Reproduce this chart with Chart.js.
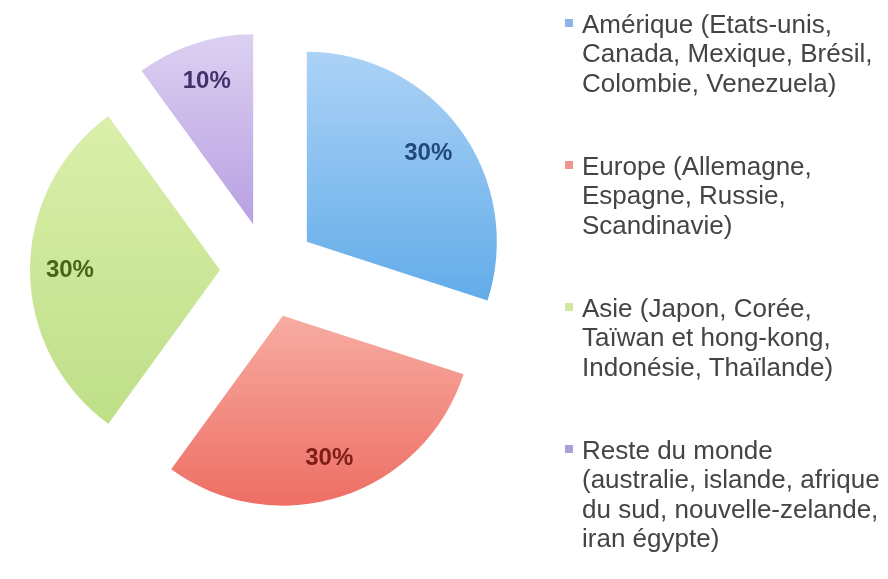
<!DOCTYPE html>
<html>
<head>
<meta charset="utf-8">
<script src="https://cdn.jsdelivr.net/npm/chart.js@4.4.1/dist/chart.umd.min.js"></script>
<style>
  html, body { margin: 0; padding: 0; background: #ffffff; }
  #wrap { position: relative; width: 888px; height: 579px; overflow: hidden; background: #ffffff; }
  #c { position: absolute; left: 0; top: 0; }
  #legend { position: absolute; left: 0; top: 0; width: 888px; height: 579px; pointer-events: none;
            font-family: "Liberation Sans", Arial, sans-serif; font-size: 26px; line-height: 29.5px; color: #444444; }
  .item { position: absolute; left: 582px; white-space: nowrap; }
  .mark { position: absolute; left: -17px; top: 9px; width: 8px; height: 8px; }
</style>
</head>
<body>
<div id="wrap">
  <canvas id="c" width="888" height="579"></canvas>
  <div id="legend"></div>
</div>
<script>
// ---- data ----
const categories = ['Amérique', 'Europe', 'Asie', 'Reste du monde'];
const legendLines = [
  ['Amérique (Etats-unis,', 'Canada, Mexique, Brésil,', 'Colombie, Venezuela)'],
  ['Europe (Allemagne,', 'Espagne, Russie,', 'Scandinavie)'],
  ['Asie (Japon, Corée,', 'Taïwan et hong-kong,', 'Indonésie, Thaïlande)'],
  ['Reste du monde', '(australie, islande, afrique', 'du sud, nouvelle-zelande,', 'iran égypte)']
];
const shares = [30, 30, 30, 10];

// ---- styles ----
const sliceTop = ['#acd2f6', '#f7aca2', '#daefab', '#dcd0f2'];
const sliceBottom = ['#62ace9', '#ee6e64', '#bedf88', '#b8a0e1'];
const labelColors = ['#23487a', '#7a1f18', '#45651a', '#42326b'];
const markerColors = ['#8db3e6', '#f0958d', '#d2e6a2', '#a9a3dc'];
const RADIUS = 190;
const EXPLODE = 48;

// ---- legend (HTML text) ----
const legendEl = document.getElementById('legend');
legendLines.forEach((lines, i) => {
  const item = document.createElement('div');
  item.className = 'item';
  item.style.top = (9.5 + i * 142) + 'px';
  const mark = document.createElement('span');
  mark.className = 'mark';
  mark.style.background = markerColors[i];
  item.appendChild(mark);
  lines.forEach((t, j) => {
    if (j) item.appendChild(document.createElement('br'));
    item.appendChild(document.createTextNode(t));
  });
  legendEl.appendChild(item);
});

// ---- plugins ----
const explodePlugin = {
  id: 'explode',
  afterDatasetUpdate(chart, args) {
    const meta = chart.getDatasetMeta(args.index);
    const ctx = chart.ctx;
    meta.data.forEach((arc, i) => {
      const mid = (arc.startAngle + arc.endAngle) / 2;
      arc.x += Math.cos(mid) * EXPLODE;
      arc.y += Math.sin(mid) * EXPLODE;
      let minY = arc.y, maxY = arc.y;
      for (let k = 0; k <= 40; k++) {
        const a = arc.startAngle + (arc.endAngle - arc.startAngle) * k / 40;
        const yy = arc.y + Math.sin(a) * arc.outerRadius;
        minY = Math.min(minY, yy); maxY = Math.max(maxY, yy);
      }
      const g = ctx.createLinearGradient(0, minY, 0, maxY);
      g.addColorStop(0, sliceTop[i]);
      g.addColorStop(1, sliceBottom[i]);
      if (arc.options && !Object.isFrozen(arc.options)) arc.options.backgroundColor = g;
    });
  }
};

const labelPlugin = {
  id: 'sliceLabels',
  afterDatasetsDraw(chart) {
    const meta = chart.getDatasetMeta(0);
    const data = chart.data.datasets[0].data;
    const total = data.reduce((a, b) => a + b, 0);
    const ctx = chart.ctx;
    ctx.save();
    ctx.font = 'bold 24px "Liberation Sans", Arial, sans-serif';
    ctx.textAlign = 'center';
    ctx.textBaseline = 'middle';
    meta.data.forEach((arc, i) => {
      const mid = (arc.startAngle + arc.endAngle) / 2;
      const r = arc.outerRadius * 0.79;
      ctx.fillStyle = labelColors[i];
      ctx.fillText(Math.round(data[i] / total * 100) + '%', arc.x + Math.cos(mid) * r, arc.y + Math.sin(mid) * r);
    });
    ctx.restore();
  }
};

new Chart(document.getElementById('c'), {
  type: 'pie',
  data: {
    labels: categories,
    datasets: [{
      data: shares,
      backgroundColor: sliceBottom.slice(),
      borderWidth: 0,
      hoverOffset: 0,
      radius: RADIUS
    }]
  },
  options: {
    responsive: false,
    animation: false,
    events: [],
    devicePixelRatio: 1,
    layout: { padding: { left: 0, top: 0, right: 352, bottom: 39 } },
    plugins: {
      legend: { display: false },
      tooltip: { enabled: false }
    }
  },
  plugins: [explodePlugin, labelPlugin]
});
</script>
</body>
</html>
